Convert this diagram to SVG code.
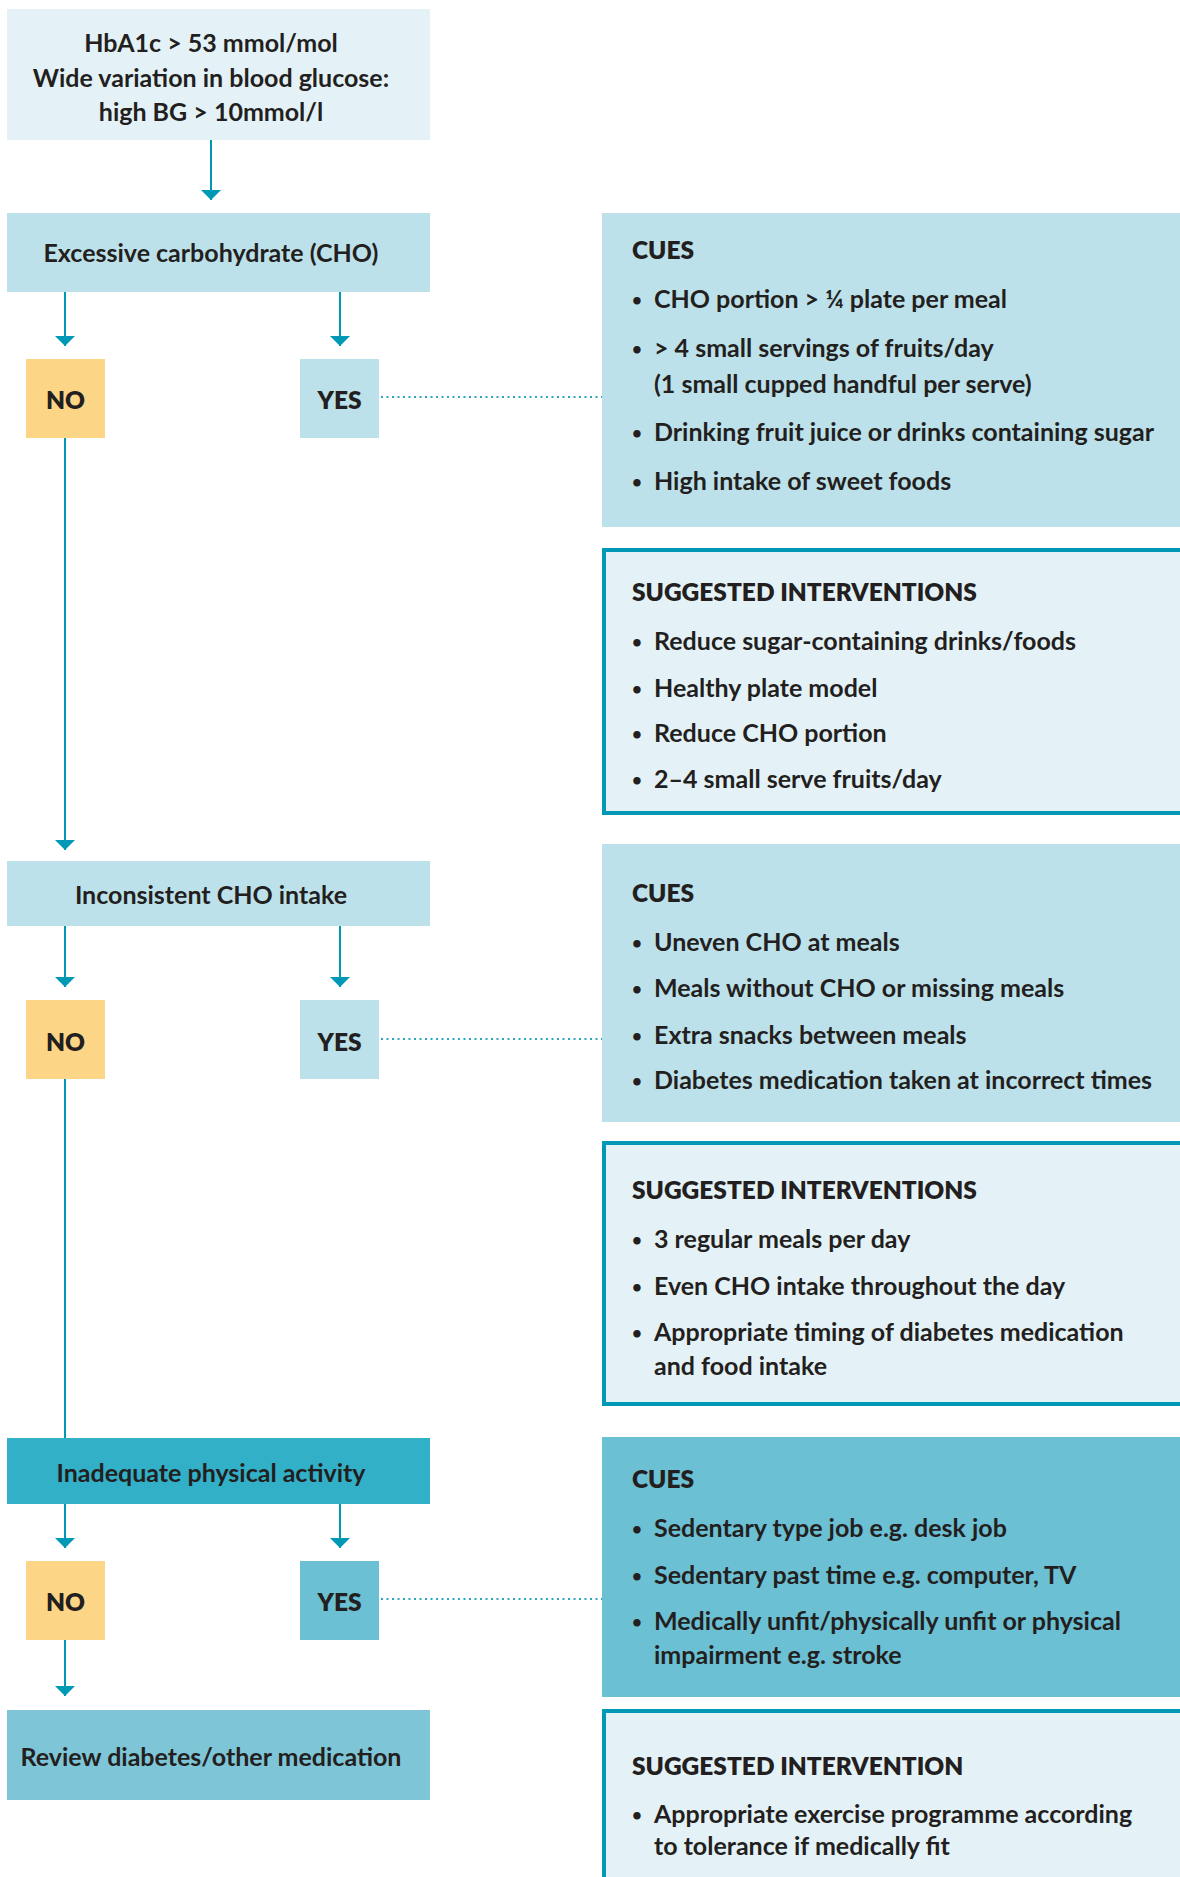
<svg xmlns="http://www.w3.org/2000/svg" width="1180" height="1877" viewBox="0 0 1180 1877">
<defs>
<style>
.t{font-family:Lato,"Open Sans","Liberation Sans",sans-serif;font-weight:700;font-size:25px;fill:#231f20}
.b{font-weight:800;font-size:24.5px}
.c{text-anchor:middle}
.u{font-family:Lato,"Open Sans","Liberation Sans",sans-serif;font-weight:700;font-size:17px;fill:#231f20;text-anchor:middle}
.pale{fill:#e4f2f7}
.lb{fill:#bde1ea}
.no{fill:#fdd587}
.mid{fill:#6bc0d4}
.int{fill:#e4f2f7;stroke:#0099b5;stroke-width:4}
.conn{stroke:#0099b5;stroke-width:2;fill:none}
.dot{stroke:#2aa7c2;stroke-width:2;stroke-dasharray:2 3.5;fill:none}
</style>
<marker id="ah" markerUnits="userSpaceOnUse" markerWidth="10" markerHeight="20" viewBox="0 0 10 20" refX="10" refY="10" orient="auto">
<path d="M0,0 L10,10 L0,20 z" fill="#0099b5"/>
</marker>
</defs>
<rect width="1180" height="1877" fill="#ffffff"/>

<g id="connectors">
<line class="conn" x1="211" y1="139" x2="211" y2="200" marker-end="url(#ah)"/>
<line class="conn" x1="65" y1="291" x2="65" y2="346" marker-end="url(#ah)"/>
<line class="conn" x1="340" y1="291" x2="340" y2="346" marker-end="url(#ah)"/>
<line class="dot" x1="381" y1="397" x2="602" y2="397"/>
<line class="conn" x1="65" y1="438" x2="65" y2="850" marker-end="url(#ah)"/>
<line class="conn" x1="65" y1="926" x2="65" y2="987" marker-end="url(#ah)"/>
<line class="conn" x1="340" y1="926" x2="340" y2="987" marker-end="url(#ah)"/>
<line class="dot" x1="381" y1="1039" x2="602" y2="1039"/>
<line class="conn" x1="65" y1="1079" x2="65" y2="1438"/>
<line class="conn" x1="65" y1="1504" x2="65" y2="1548" marker-end="url(#ah)"/>
<line class="conn" x1="340" y1="1504" x2="340" y2="1548" marker-end="url(#ah)"/>
<line class="dot" x1="381" y1="1599" x2="602" y2="1599"/>
<line class="conn" x1="65" y1="1640" x2="65" y2="1696" marker-end="url(#ah)"/>
</g>

<g id="start">
<rect class="pale" x="7" y="9" width="423" height="131"/>
<text class="t c" x="211" y="52">HbA1c &gt; 53 mmol/mol</text>
<text class="t c" x="211" y="87">Wide variation in blood glucose:</text>
<text class="t c" x="211" y="121">high BG &gt; 10mmol/l</text>
</g>

<g id="excessive">
<rect class="lb" x="7" y="213" width="423" height="79"/>
<text class="t c" x="211" y="262">Excessive carbohydrate (CHO)</text>
</g>
<g id="no1">
<rect class="no" x="26" y="359" width="79" height="79"/>
<text class="t b c" x="65.5" y="409">NO</text>
</g>
<g id="yes1">
<rect class="lb" x="300" y="359" width="79" height="79"/>
<text class="t b c" x="339.5" y="409">YES</text>
</g>
<g id="cues1">
<rect class="lb" x="602" y="213" width="578" height="314"/>
<text class="t b" x="632" y="259">CUES</text>
<text class="u" x="637" y="306">•</text><text class="t" x="654" y="308">CHO portion &gt; ¼ plate per meal</text>
<text class="u" x="637" y="355">•</text><text class="t" x="654" y="357">&gt; 4 small servings of fruits/day</text>
<text class="t" x="654" y="393">(1 small cupped handful per serve)</text>
<text class="u" x="637" y="439">•</text><text class="t" x="654" y="441">Drinking fruit juice or drinks containing sugar</text>
<text class="u" x="637" y="488">•</text><text class="t" x="654" y="490">High intake of sweet foods</text>
</g>
<g id="interventions1">
<rect class="int" x="604" y="550" width="600" height="263"/>
<text class="t b" x="632" y="601">SUGGESTED INTERVENTIONS</text>
<text class="u" x="637" y="648">•</text><text class="t" x="654" y="650">Reduce sugar-containing drinks/foods</text>
<text class="u" x="637" y="695">•</text><text class="t" x="654" y="697">Healthy plate model</text>
<text class="u" x="637" y="740">•</text><text class="t" x="654" y="742">Reduce CHO portion</text>
<text class="u" x="637" y="786">•</text><text class="t" x="654" y="788">2–4 small serve fruits/day</text>
</g>

<g id="inconsistent">
<rect class="lb" x="7" y="861" width="423" height="65"/>
<text class="t c" x="211" y="904">Inconsistent CHO intake</text>
</g>
<g id="no2">
<rect class="no" x="26" y="1000" width="79" height="79"/>
<text class="t b c" x="65.5" y="1051">NO</text>
</g>
<g id="yes2">
<rect class="lb" x="300" y="1000" width="79" height="79"/>
<text class="t b c" x="339.5" y="1051">YES</text>
</g>
<g id="cues2">
<rect class="lb" x="602" y="844" width="578" height="278"/>
<text class="t b" x="632" y="902">CUES</text>
<text class="u" x="637" y="949">•</text><text class="t" x="654" y="951">Uneven CHO at meals</text>
<text class="u" x="637" y="995">•</text><text class="t" x="654" y="997">Meals without CHO or missing meals</text>
<text class="u" x="637" y="1042">•</text><text class="t" x="654" y="1044">Extra snacks between meals</text>
<text class="u" x="637" y="1087">•</text><text class="t" x="654" y="1089">Diabetes medication taken at incorrect times</text>
</g>
<g id="interventions2">
<rect class="int" x="604" y="1143" width="600" height="261"/>
<text class="t b" x="632" y="1199">SUGGESTED INTERVENTIONS</text>
<text class="u" x="637" y="1246">•</text><text class="t" x="654" y="1248">3 regular meals per day</text>
<text class="u" x="637" y="1293">•</text><text class="t" x="654" y="1295">Even CHO intake throughout the day</text>
<text class="u" x="637" y="1339">•</text><text class="t" x="654" y="1341">Appropriate timing of diabetes medication</text>
<text class="t" x="654" y="1375">and food intake</text>
</g>

<g id="inadequate">
<rect x="7" y="1438" width="423" height="66" fill="#31b0c8"/>
<text class="t c" x="211" y="1482">Inadequate physical activity</text>
</g>
<g id="no3">
<rect class="no" x="26" y="1561" width="79" height="79"/>
<text class="t b c" x="65.5" y="1611">NO</text>
</g>
<g id="yes3">
<rect class="mid" x="300" y="1561" width="79" height="79"/>
<text class="t b c" x="339.5" y="1611">YES</text>
</g>
<g id="cues3">
<rect class="mid" x="602" y="1437" width="578" height="260"/>
<text class="t b" x="632" y="1488">CUES</text>
<text class="u" x="637" y="1535">•</text><text class="t" x="654" y="1537">Sedentary type job e.g. desk job</text>
<text class="u" x="637" y="1582">•</text><text class="t" x="654" y="1584">Sedentary past time e.g. computer, TV</text>
<text class="u" x="637" y="1628">•</text><text class="t" x="654" y="1630">Medically unfit/physically unfit or physical</text>
<text class="t" x="654" y="1664">impairment e.g. stroke</text>
</g>
<g id="review">
<rect x="7" y="1710" width="423" height="90" fill="#7ec6d7"/>
<text class="t c" x="211" y="1766">Review diabetes/other medication</text>
</g>
<g id="interventions3">
<rect class="int" x="604" y="1711" width="600" height="220"/>
<text class="t b" x="632" y="1775">SUGGESTED INTERVENTION</text>
<text class="u" x="637" y="1821">•</text><text class="t" x="654" y="1823">Appropriate exercise programme according</text>
<text class="t" x="654" y="1855">to tolerance if medically fit</text>
</g>
</svg>
